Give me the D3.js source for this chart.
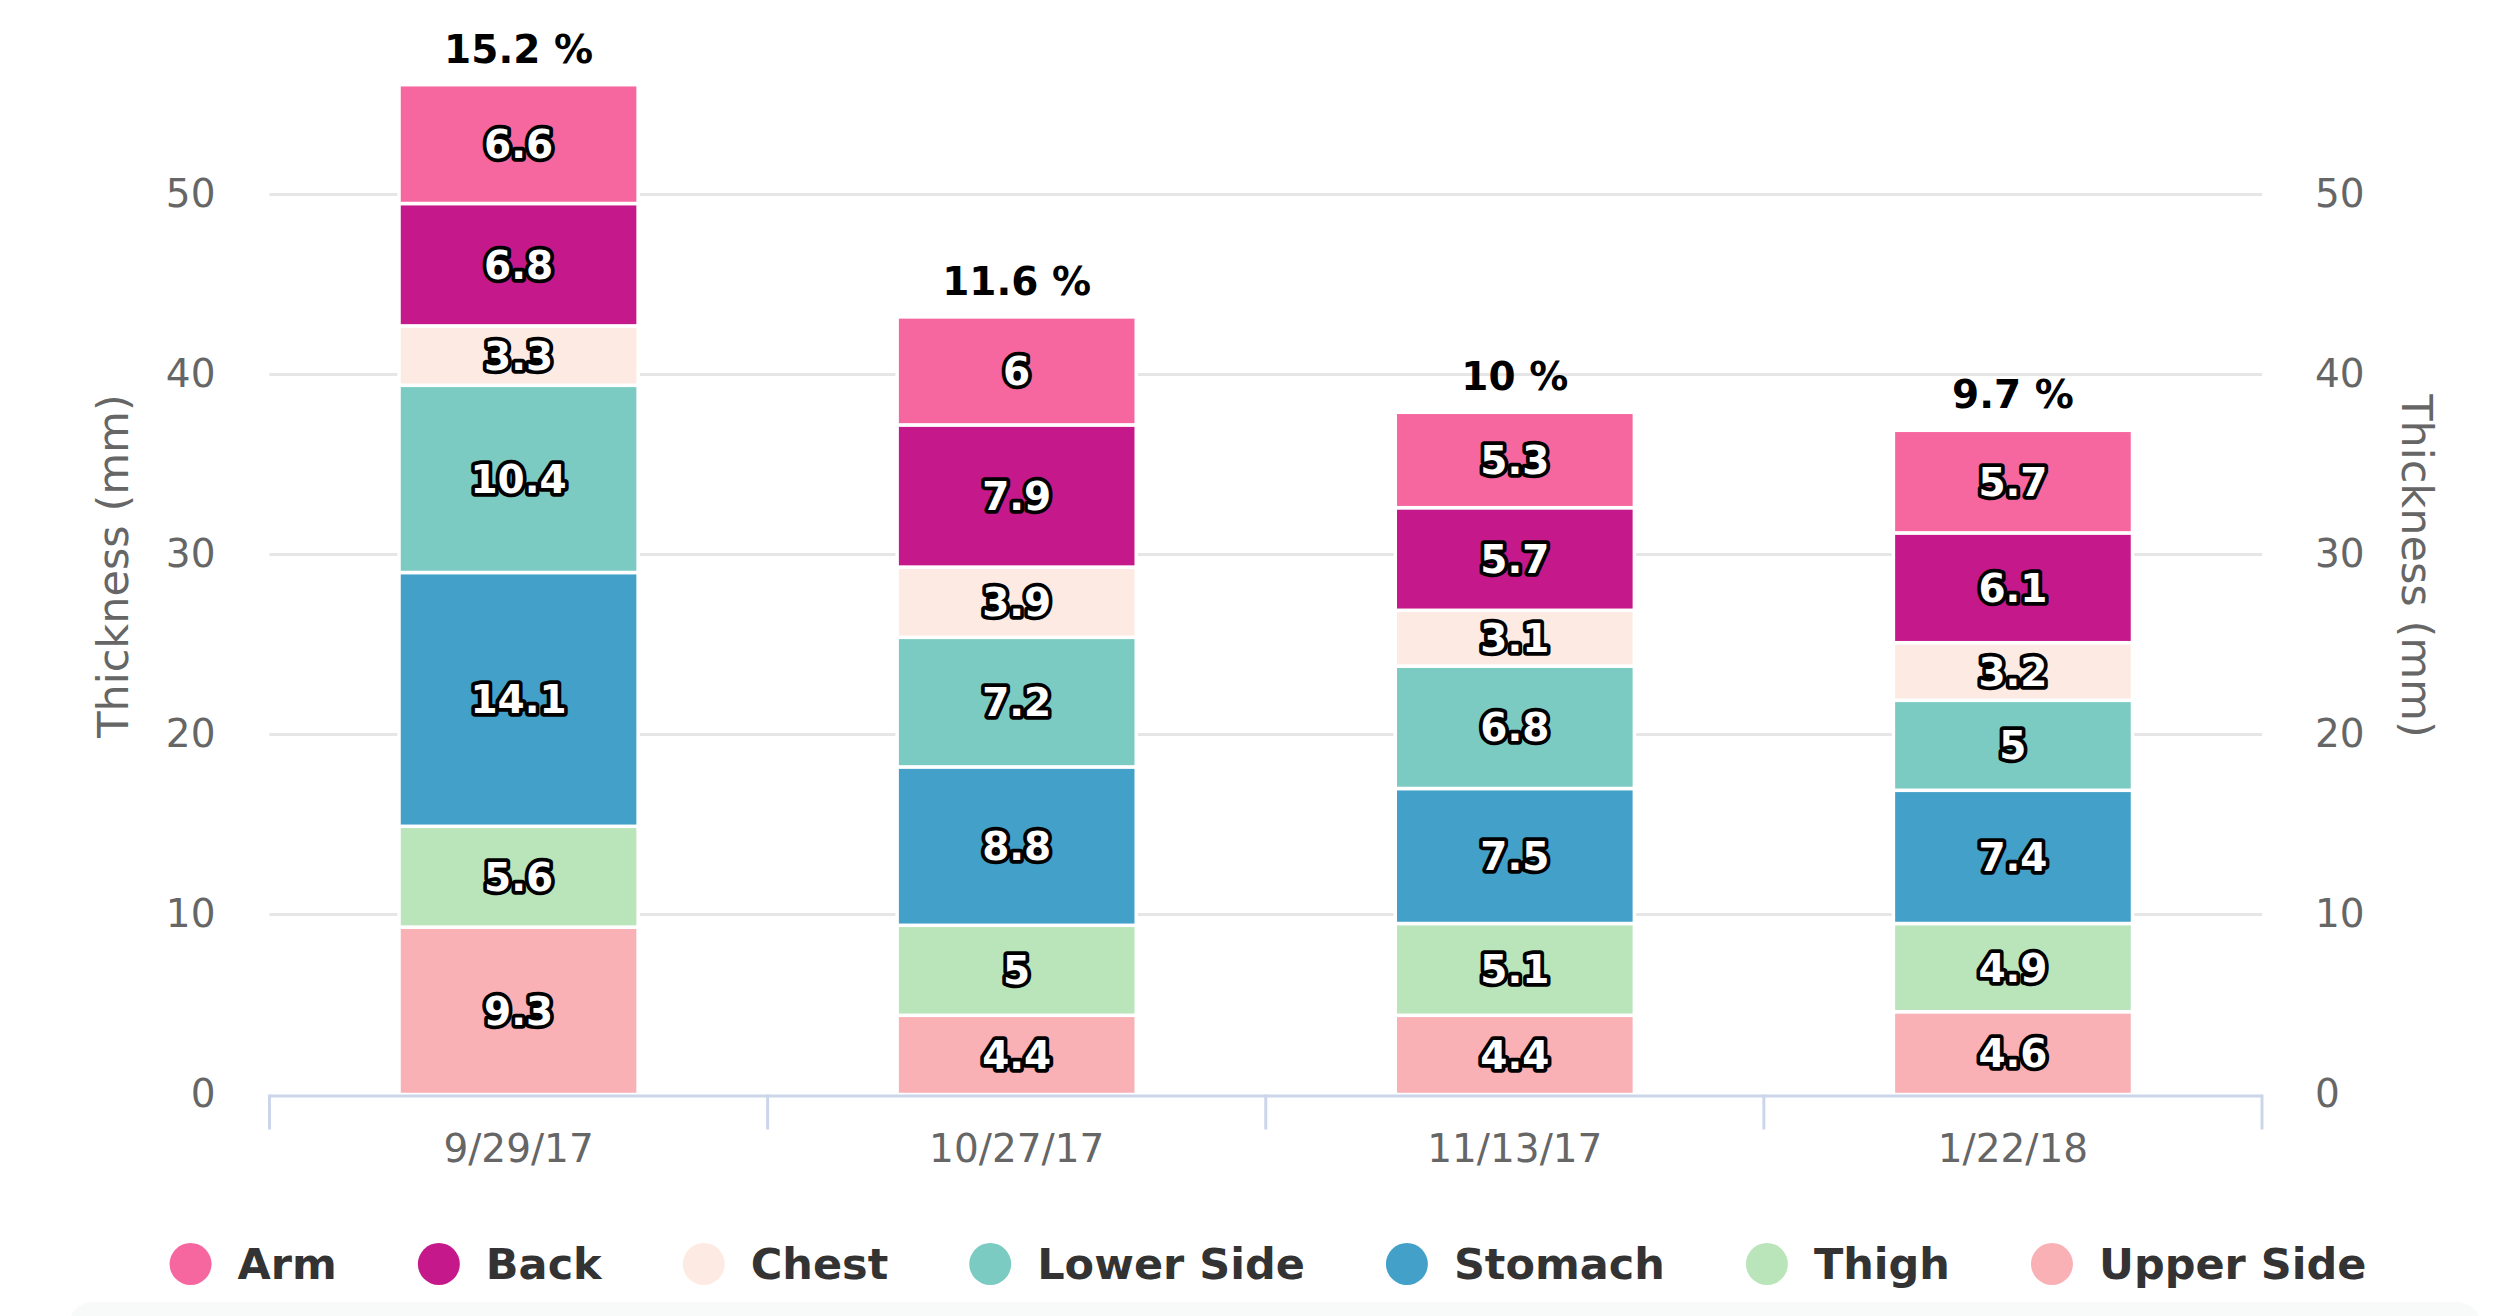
<!DOCTYPE html>
<html>
<head>
<meta charset="utf-8">
<script src="https://cdn.jsdelivr.net/npm/d3@7"></script>
<style>
  html, body { margin: 0; padding: 0; background: #fff; }
  svg { display: block; font-family: "DejaVu Sans", sans-serif; }
</style>
</head>
<body>
<svg id="chart" width="2500" height="1316"></svg>
<script>
// ---- Data ----
const categories = ["9/29/17", "10/27/17", "11/13/17", "1/22/18"];
const seriesNames = ["Arm", "Back", "Chest", "Lower Side", "Stomach", "Thigh", "Upper Side"];
const seriesColors = ["#f7679f", "#c5198b", "#fdebe3", "#7ccbc3", "#42a0c9", "#bae4ba", "#f9b1b6"];
const arm       = [6.6, 6, 5.3, 5.7];
const back      = [6.8, 7.9, 5.7, 6.1];
const chest     = [3.3, 3.9, 3.1, 3.2];
const lowerSide = [10.4, 7.2, 6.8, 5];
const stomach   = [14.1, 8.8, 7.5, 7.4];
const thigh     = [5.6, 5, 5.1, 4.9];
const upperSide = [9.3, 4.4, 4.4, 4.6];
const percentLabels = ["15.2 %", "11.6 %", "10 %", "9.7 %"];
const yTicks = [0, 10, 20, 30, 40, 50];
const yTitle = "Thickness (mm)";

const seriesValues = [arm, back, chest, lowerSide, stomach, thigh, upperSide];

// table for stacking
const table = categories.map((c, i) => {
  const row = { category: c };
  seriesNames.forEach((s, j) => row[s] = seriesValues[j][i]);
  return row;
});
const colorOf = d3.scaleOrdinal().domain(seriesNames).range(seriesColors);

// ---- Layout ----
const plotLeft = 269.5, plotRight = 2262, plotBottom = 1094.5;
const svg = d3.select("#chart");

const x = d3.scaleBand().domain(categories).range([plotLeft, plotRight]).padding(0);
const y = d3.scaleLinear().domain([0, 50]).range([plotBottom, 194.5]);
const barW = x.bandwidth() * 0.48;

// bottom faint strip
svg.append("rect").attr("x", 70).attr("y", 1302).attr("width", 2410).attr("height", 40)
  .attr("rx", 24).attr("fill", "#f8f9f9");

// gridlines
svg.append("g").selectAll("line").data(yTicks.filter(t => t > 0)).join("line")
  .attr("x1", plotLeft).attr("x2", plotRight)
  .attr("y1", d => y(d)).attr("y2", d => y(d))
  .attr("stroke", "#e6e6e6").attr("stroke-width", 3);

// left axis
const leftAxis = d3.axisLeft(y).tickValues(yTicks).tickSize(0).tickPadding(54);
const gl = svg.append("g").attr("transform", `translate(${plotLeft},0)`).call(leftAxis);
gl.select(".domain").remove();
gl.selectAll("text").attr("font-size", 39).attr("fill", "#666").attr("font-family", "DejaVu Sans");

// right axis
const rightAxis = d3.axisRight(y).tickValues(yTicks).tickSize(0).tickPadding(53);
const gr = svg.append("g").attr("transform", `translate(${plotRight},0)`).call(rightAxis);
gr.select(".domain").remove();
gr.selectAll("text").attr("font-size", 39).attr("fill", "#666").attr("font-family", "DejaVu Sans");

// axis titles
svg.append("text").attr("transform", `translate(128,566) rotate(-90)`)
  .attr("text-anchor", "middle").attr("font-size", 43).attr("fill", "#666").text(yTitle);
svg.append("text").attr("transform", `translate(2402,566) rotate(90)`)
  .attr("text-anchor", "middle").attr("font-size", 43).attr("fill", "#666").text(yTitle);

// stacked bars
const stackKeys = seriesNames.slice().reverse(); // bottom first
const stacked = d3.stack().keys(stackKeys)(table);

const layers = svg.append("g").selectAll("g").data(stacked).join("g")
  .attr("fill", d => colorOf(d.key));
layers.selectAll("rect").data(d => d).join("rect")
  .attr("x", d => x(d.data.category) + (x.bandwidth() - barW) / 2)
  .attr("width", barW)
  .attr("y", d => y(d[1]))
  .attr("height", d => y(d[0]) - y(d[1]))
  .attr("stroke", "#fff").attr("stroke-width", 3.5);

// x axis
const xAxis = d3.axisBottom(x).tickSize(0).tickPadding(40);
const gx = svg.append("g").attr("transform", `translate(0,${plotBottom})`).call(xAxis);
gx.select(".domain").remove();
gx.selectAll("text").attr("font-size", 39).attr("fill", "#666").attr("font-family", "DejaVu Sans");
svg.append("line").attr("x1", plotLeft).attr("x2", plotRight)
  .attr("y1", plotBottom + 1.5).attr("y2", plotBottom + 1.5)
  .attr("stroke", "#ccd6eb").attr("stroke-width", 3);
const boundaries = categories.map(c => x(c)).concat([x.range()[1]]);
svg.append("g").selectAll("line").data(boundaries).join("line")
  .attr("x1", d => d).attr("x2", d => d)
  .attr("y1", plotBottom).attr("y2", plotBottom + 35)
  .attr("stroke", "#ccd6eb").attr("stroke-width", 3);

// segment labels
const labelG = svg.append("g");
stacked.forEach(layer => {
  layer.forEach(d => {
    const v = d[1] - d[0];
    labelG.append("text")
      .attr("x", x(d.data.category) + x.bandwidth() / 2)
      .attr("y", (y(d[0]) + y(d[1])) / 2)
      .attr("dy", "0.36em")
      .attr("text-anchor", "middle")
      .attr("font-size", 39).attr("font-weight", "bold")
      .attr("fill", "#fff").attr("stroke", "#000").attr("stroke-width", 7.5)
      .attr("stroke-linejoin", "round").attr("paint-order", "stroke")
      .text(String(+v.toFixed(1)));
  });
});

// totals (percent) labels
const topLayer = stacked[stacked.length - 1];
svg.append("g").selectAll("text").data(topLayer).join("text")
  .attr("x", d => x(d.data.category) + x.bandwidth() / 2)
  .attr("y", d => y(d[1]) - 36)
  .attr("dy", "0.36em")
  .attr("text-anchor", "middle")
  .attr("font-size", 39).attr("font-weight", "bold").attr("fill", "#000")
  .text((d, i) => percentLabels[i]);

// legend
const legendY = 1264, r = 21, textOff = 47, itemGap = 102;
const lg = svg.append("g");
const items = seriesNames.map((name, i) => {
  const g = lg.append("g");
  g.append("circle").attr("r", r).attr("fill", seriesColors[i]);
  const t = g.append("text").attr("x", textOff).attr("dy", "0.36em")
    .attr("font-size", 43).attr("font-weight", "bold").attr("fill", "#333").text(name);
  return { g, w: t.node().getComputedTextLength() };
});
let total = 0;
items.forEach((it, i) => { total += textOff + it.w + (i < items.length - 1 ? itemGap : 0); });
total += r;
let cx = 1268 - total / 2 + r;
items.forEach(it => {
  it.g.attr("transform", `translate(${cx},${legendY})`);
  cx += textOff + it.w + itemGap;
});
</script>
</body>
</html>
